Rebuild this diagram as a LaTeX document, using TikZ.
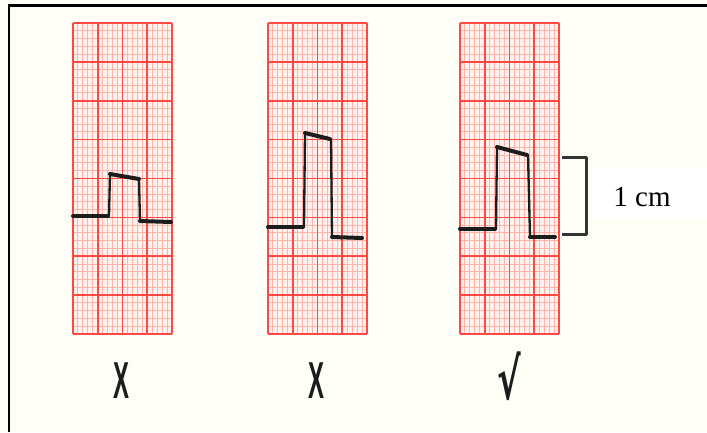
\documentclass[tikz,border=0pt]{standalone}
\usepackage{fontspec}
\setmainfont{Liberation Serif}
\newfontfamily\marksans{Liberation Sans}
\newfontfamily\dejavu{DejaVu Sans}
\definecolor{paper}{HTML}{FFFEF6}
\definecolor{minorred}{HTML}{FFB4AC}
\definecolor{majorred}{HTML}{FF4A44}
\definecolor{gridfill}{HTML}{FFF1EE}
\definecolor{ink}{HTML}{1C1C1C}
\tikzset{
  minorline/.style={minorred, line width=1pt},
  majorline/.style={majorred, line width=1.7pt},
  traceflat/.style={ink, line width=4pt, line cap=round, line join=round},
  tracevert/.style={ink, line width=2.3pt, line cap=round},
  bracketline/.style={ink!90, line width=3pt, line join=round},
  framebox/.style={black, line width=2.6pt},
  marklabel/.style={inner sep=0pt, text=ink},
}
\newcommand{\ecgpaper}[2]{%
  \begin{scope}[shift={(#1,#2)}]
    \fill[gridfill] (0,0) rectangle (99,311);
    \foreach \i in {0,...,20} {\draw[minorline] (\i*4.95,0) -- (\i*4.95,311);}
    \foreach \j in {0,...,40} {\draw[minorline] (0,\j*7.775) -- (99,\j*7.775);}
    \foreach \i in {0,...,4} {\draw[majorline] (\i*24.75,0) -- (\i*24.75,311);}
    \foreach \j in {0,...,8} {\draw[majorline] (0,\j*38.875) -- (99,\j*38.875);}
  \end{scope}}
\begin{document}
\begin{tikzpicture}[x=1pt,y=-1pt]
\useasboundingbox (0,0) rectangle (707,432);
\fill[paper] (0,0) rectangle (707,432);
% frame (left and top edges)
\draw[framebox] (9,432) -- (9,5.5) -- (707,5.5);
% ECG papers
\ecgpaper{73}{23}
\ecgpaper{268}{23}
\ecgpaper{460}{23}
% trace 1
\draw[traceflat] (73,216) -- (108,216);
\draw[tracevert] (109,216) -- (110,174);
\draw[traceflat] (110,174) -- (139,179);
\draw[tracevert] (139,179) -- (140,221);
\draw[traceflat] (140,221) -- (171,222);
% trace 2
\draw[traceflat] (268,227) -- (303,227);
\draw[tracevert] (304,227) -- (305,133);
\draw[traceflat] (305,133) -- (330,139);
\draw[tracevert] (331,139) -- (332,237);
\draw[traceflat] (332,237) -- (362,238);
% trace 3
\draw[traceflat] (460,229) -- (495,229);
\draw[tracevert] (496,229) -- (497,147);
\draw[traceflat] (497,147) -- (527,155);
\draw[tracevert] (528,155) -- (530,237);
\draw[traceflat] (530,237) -- (555,237);
% bracket
\draw[bracketline] (562,157) -- (586,157) -- (586,234) -- (562,234);
% label
\fill[white] (592,167) rectangle (707,218);
\node[inner sep=0pt] (cm) at (642,197) {\fontsize{29}{34}\selectfont 1 cm};
% marks
\node[marklabel] (m1) at (121,381) {\marksans\bfseries\fontsize{52}{58}\selectfont\scalebox{0.46}[1]{X}};
\node[marklabel] (m2) at (316,381) {\marksans\bfseries\fontsize{52}{58}\selectfont\scalebox{0.46}[1]{X}};
\node[marklabel] (m3) at (509,376) {\dejavu\bfseries\fontsize{57}{62}\selectfont\scalebox{0.62}[1]{√}};
\end{tikzpicture}
\end{document}
